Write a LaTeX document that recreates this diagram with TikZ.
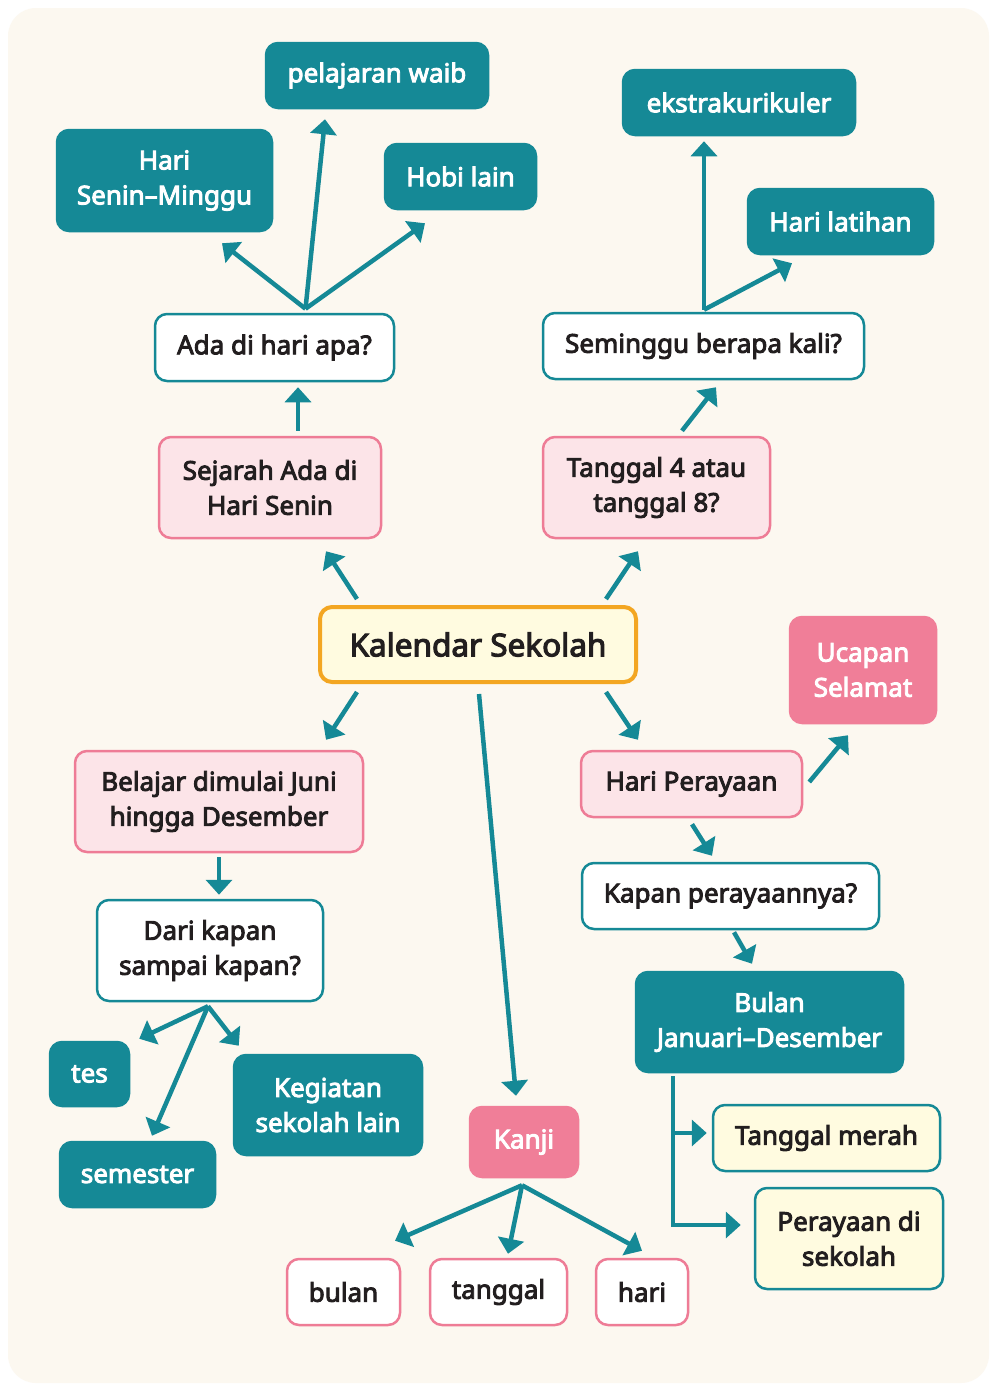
\documentclass[tikz,border=0pt]{standalone}
\usepackage{fontspec}
\setmainfont{Noto Sans}[AutoFakeBold=3.5]
\usetikzlibrary{arrows.meta,positioning,calc}
\definecolor{tealmain}{RGB}{21,137,150}
\definecolor{pinkfill}{RGB}{252,228,232}
\definecolor{pinkline}{RGB}{238,124,150}
\definecolor{pinksolid}{RGB}{240,126,152}
\definecolor{yellowfill}{RGB}{255,251,224}
\definecolor{orangeline}{RGB}{243,166,34}
\definecolor{bgcream}{RGB}{252,248,240}
\definecolor{textdark}{RGB}{34,30,31}

\begin{document}
\begin{tikzpicture}[x=1pt, y=-1pt,
    box/.style={rectangle, rounded corners=12pt, line width=2.5pt, align=center, inner sep=0pt,
        font=\fontsize{26}{35}\selectfont\bfseries, text=textdark},
    tealbox/.style={box, fill=tealmain, draw=tealmain, text=white},
    whitebox/.style={box, fill=white, draw=tealmain},
    pinkbox/.style={box, fill=pinkfill, draw=pinkline},
    hotbox/.style={box, fill=pinksolid, draw=pinksolid, text=white},
    yellowbox/.style={box, fill=yellowfill, draw=tealmain},
    wordbox/.style={box, fill=white, draw=pinkline},
    arrow/.style={-{Triangle[length=15pt,width=26pt]}, line width=4.5pt, tealmain}
]

% Background
\useasboundingbox (0,0) rectangle (991,1385);
\fill[white] (0,0) rectangle (991,1385);
\fill[bgcream, rounded corners=28pt] (8,8) rectangle (989,1383);

% Centre
\node[box, fill=yellowfill, draw=orangeline, line width=4pt, minimum width=316pt, minimum height=75pt,
    font=\fontsize{31.5}{35}\selectfont\bfseries] (kalendar) at (478,644.5) {Kalendar Sekolah};

% Upper left
\node[pinkbox, minimum width=222pt, minimum height=101pt] (sejarah) at (270,487.5) {Sejarah Ada di\\Hari Senin};
\node[whitebox, minimum width=239pt, minimum height=67pt] (ada) at (274.5,347.5) {Ada di hari apa?};
\node[tealbox, minimum width=215pt, minimum height=101pt] (senin) at (164.5,180.5) {Hari\\Senin–Minggu};
\node[tealbox, minimum width=222pt, minimum height=65pt] (waib) at (377,75.5) {pelajaran waib};
\node[tealbox, minimum width=151pt, minimum height=65pt] (hobi) at (460.5,176.5) {Hobi lain};

% Upper right
\node[pinkbox, minimum width=227pt, minimum height=101pt] (tgl48) at (656.5,487.5) {Tanggal 4 atau\\tanggal 8?};
\node[whitebox, minimum width=321pt, minimum height=66pt] (seminggu) at (703.5,346) {Seminggu berapa kali?};
\node[tealbox, minimum width=232pt, minimum height=65pt] (ekstra) at (739,102.5) {ekstrakurikuler};
\node[tealbox, minimum width=185pt, minimum height=65pt] (latihan) at (840.5,221.5) {Hari latihan};

% Lower left
\node[pinkbox, minimum width=288pt, minimum height=101pt] (belajar) at (219,801.5) {Belajar dimulai Juni\\hingga Desember};
\node[whitebox, minimum width=226pt, minimum height=101pt] (dari) at (210,950.5) {Dari kapan\\sampai kapan?};
\node[tealbox, minimum width=79pt, minimum height=64pt] (tes) at (89.5,1074) {tes};
\node[tealbox, minimum width=188pt, minimum height=100pt] (kegiatan) at (328,1105) {Kegiatan\\sekolah lain};
\node[tealbox, minimum width=155pt, minimum height=65pt] (semester) at (137.5,1174.5) {semester};

% Lower middle
\node[hotbox, minimum width=108pt, minimum height=70pt] (kanji) at (524,1142) {Kanji};
\node[wordbox, minimum width=113pt, minimum height=66pt] (bulan) at (343.5,1292) {bulan};
\node[wordbox, minimum width=137pt, minimum height=66pt] (tanggal) at (498.5,1292) {tanggal};
\node[wordbox, minimum width=92pt, minimum height=66pt] (hari) at (642,1292) {hari};

% Lower right
\node[hotbox, minimum width=146pt, minimum height=106pt] (ucapan) at (863,670) {Ucapan\\Selamat};
\node[pinkbox, minimum width=221pt, minimum height=66pt] (perayaan) at (691.5,784) {Hari Perayaan};
\node[whitebox, minimum width=297pt, minimum height=66pt] (kapan) at (730.5,896) {Kapan perayaannya?};
\node[tealbox, minimum width=267pt, minimum height=100pt] (bulanjd) at (769.5,1022) {Bulan\\Januari–Desember};
\node[yellowbox, minimum width=227pt, minimum height=66pt] (merah) at (826.5,1138) {Tanggal merah};
\node[yellowbox, minimum width=188pt, minimum height=101pt] (sekolah) at (849,1238.5) {Perayaan di\\sekolah};

% Fork points
\coordinate (fada) at ([xshift=31pt,yshift=4pt]ada.north);
\coordinate (fsem) at ([xshift=0.5pt,yshift=2pt]seminggu.north);
\coordinate (fdari) at ([xshift=-2pt,yshift=-4pt]dari.south);
\coordinate (fkanji) at ([xshift=-2pt,yshift=-7pt]kanji.south);
\coordinate (fbulan) at ([xshift=-96.5pt,yshift=-3pt]bulanjd.south);

% Edges from the centre
\draw[arrow] ([xshift=-121pt,yshift=6pt]kalendar.north) -- ([xshift=56pt,yshift=-12pt]sejarah.south);
\draw[arrow] ([xshift=128pt,yshift=6pt]kalendar.north) -- ([xshift=-18.5pt,yshift=-12pt]tgl48.south);
\draw[arrow] ([xshift=-121pt,yshift=-8pt]kalendar.south) -- ([xshift=107pt,yshift=10pt]belajar.north);
\draw[arrow] ([xshift=128pt,yshift=-8pt]kalendar.south) -- ([xshift=-53.5pt,yshift=10pt]perayaan.north);
\draw[arrow] ([xshift=1pt,yshift=-10pt]kalendar.south) -- ([xshift=-8pt,yshift=10pt]kanji.north);

% Upper edges
\draw[arrow] ([xshift=28pt,yshift=5pt]sejarah.north) -- ([xshift=23.5pt,yshift=-5pt]ada.south);
\draw[arrow] (fada) -- ([xshift=57.5pt,yshift=-11pt]senin.south);
\draw[arrow] (fada) -- ([xshift=-52pt,yshift=-10pt]waib.south);
\draw[arrow] (fada) -- ([xshift=-35.5pt,yshift=-13pt]hobi.south);
\draw[arrow] ([xshift=25.5pt,yshift=5pt]tgl48.north) -- ([xshift=12.5pt,yshift=-7pt]seminggu.south);
\draw[arrow] (fsem) -- ([xshift=-35pt,yshift=-5pt]ekstra.south);
\draw[arrow] (fsem) -- ([xshift=-48.5pt,yshift=-8pt]latihan.south);

% Lower edges
\draw[arrow] ([yshift=-4pt]belajar.south) -- ([xshift=9pt,yshift=4pt]dari.north);
\draw[arrow] (fdari) -- ([xshift=9pt,yshift=2pt]tes.north east);
\draw[arrow] (fdari) -- ([xshift=6pt,yshift=8pt]kegiatan.north west);
\draw[arrow] (fdari) -- ([xshift=14.5pt,yshift=5pt]semester.north);
\draw[arrow] (fkanji) -- ([xshift=51.5pt,yshift=17pt]bulan.north);
\draw[arrow] (fkanji) -- ([xshift=9.5pt,yshift=4pt]tanggal.north);
\draw[arrow] (fkanji) -- ([yshift=7pt]hari.north);
\draw[arrow] ([xshift=6pt,yshift=2pt]perayaan.east) -- ([xshift=-15pt,yshift=-11pt]ucapan.south);
\draw[arrow] ([xshift=0.5pt,yshift=-6pt]perayaan.south) -- ([xshift=-18.5pt,yshift=6pt]kapan.north);
\draw[arrow] ([xshift=3.5pt,yshift=-2pt]kapan.south) -- ([xshift=-17.5pt,yshift=7pt]bulanjd.north);
\draw[arrow] (fbulan) |- ([xshift=-5pt,yshift=5pt]merah.west);
\draw[arrow] (fbulan) |- ([xshift=-13pt,yshift=13.5pt]sekolah.west);

\end{tikzpicture}
\end{document}
